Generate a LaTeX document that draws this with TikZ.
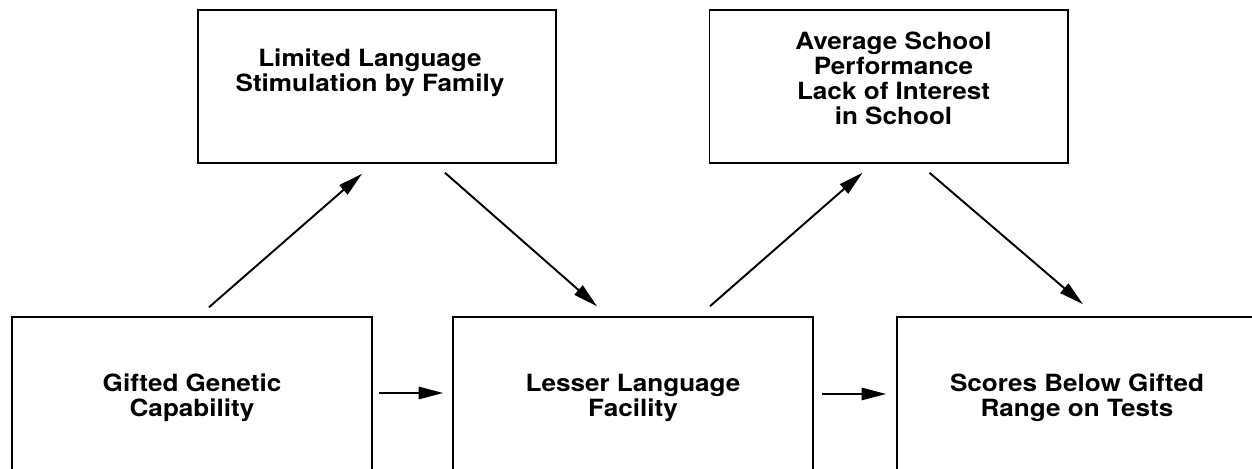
\documentclass[tikz,border=0pt]{standalone}
\usepackage{fontspec}
\setmainfont{TeX Gyre Heros}[FakeStretch=1.1]
\usetikzlibrary{arrows.meta,positioning,calc}

\begin{document}
\begin{tikzpicture}[x=0.02cm, y=0.02cm,
    box/.style={draw, line width=0.9pt, minimum width=7.2cm, minimum height=3.24cm, inner sep=0pt},
    topbox/.style={draw, line width=0.9pt, minimum width=7.17cm, minimum height=3.06cm, inner sep=0pt},
    txt/.style={align=center, font=\fontsize{13.5}{14.2}\selectfont\bfseries},
    arr/.style={-{Triangle[length=14pt,width=7pt]}, line width=1.1pt}]
    \clip (0,0) rectangle (1252,469);

    % Bottom row
    \node[box, txt] (gifted) at (192,71) {Gifted Genetic\\Capability};
    \node[box, txt] (lesser) at (633,71) {Lesser Language\\Facility};
    \node[box, txt] (scores) at (1077,71) {Scores Below Gifted\\Range on Tests};

    % Top row
    \node[topbox] (limited) at (377,382.5) {};
    \node[txt] (limitedtxt) at ($(limited.center)+(-7,14)$) {Limited Language\\Stimulation by Family};
    \node[topbox] (average) at (888.5,382.5) {};
    \node[txt] (averagetxt) at ($(average.center)+(5,8)$) {Average School\\Performance\\Lack of Interest\\in School};

    % Diagonal arrows
    \draw[arr] ([shift={(17,9)}]gifted.north) -- ([shift={(-15,-10)}]limited.south);
    \draw[arr] ([shift={(68,-9)}]limited.south) -- ([shift={(-36,10)}]lesser.north);
    \draw[arr] ([shift={(77,10)}]lesser.north) -- ([shift={(-26,-9)}]average.south);
    \draw[arr] ([shift={(41,-9)}]average.south) -- ([shift={(6,12)}]scores.north);

    % Horizontal arrows
    \draw[arr] ([shift={(6,5)}]gifted.east) -- ([shift={(-9,5)}]lesser.west);
    \draw[arr] ([shift={(8,4)}]lesser.east) -- ([shift={(-10,4)}]scores.west);
\end{tikzpicture}
\end{document}
